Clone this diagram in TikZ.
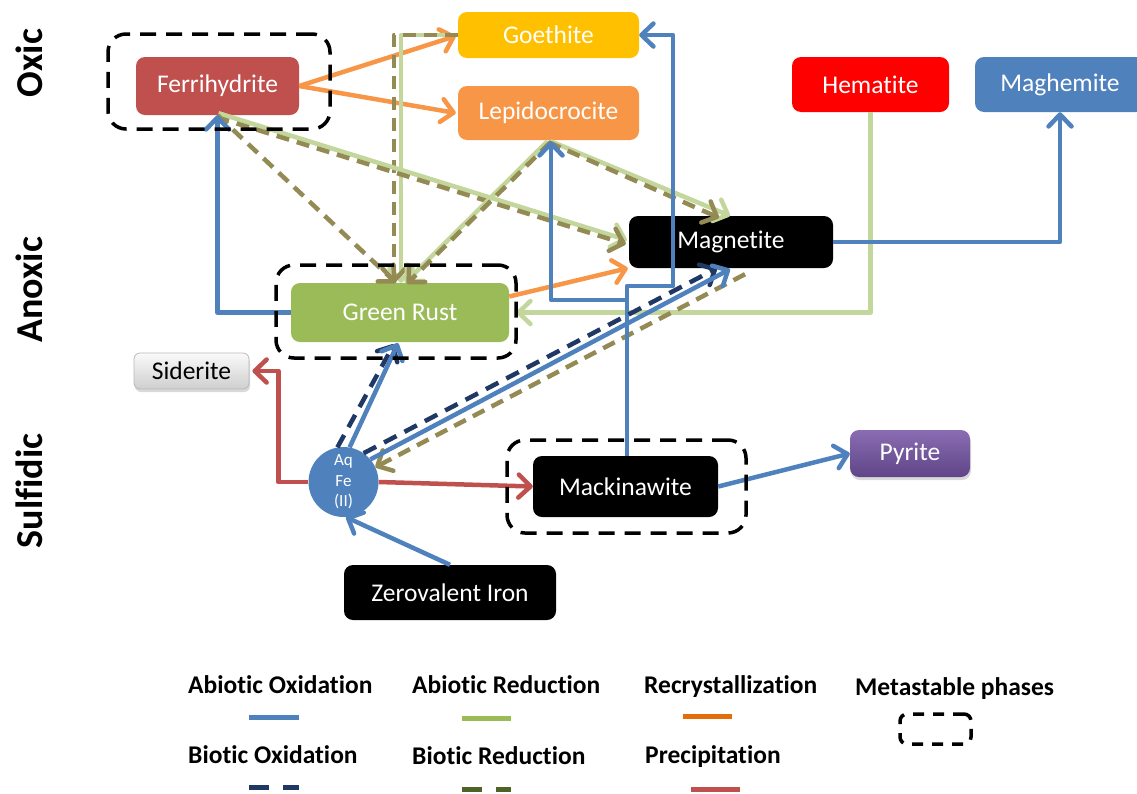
\documentclass[tikz,border=0pt]{standalone}
\usepackage{fontspec}
\setmainfont{Carlito}[Ligatures=NoCommon]
\usetikzlibrary{arrows.meta,calc,shadows}
\definecolor{cBlue}{HTML}{4F81BD}
\definecolor{cGreenL}{HTML}{C3D69B}
\definecolor{cGreen}{HTML}{9BBB59}
\definecolor{cOlive}{HTML}{948A54}
\definecolor{cOliveD}{HTML}{4F6228}
\definecolor{cNavy}{HTML}{1F3864}
\definecolor{cOrange}{HTML}{F79646}
\definecolor{cOrangeD}{HTML}{E46C0A}
\definecolor{cRed}{HTML}{C0504D}
\definecolor{cGold}{HTML}{FFC000}
\definecolor{cHem}{HTML}{FF0000}
\definecolor{cPurT}{HTML}{8A6CB2}
\definecolor{cPurB}{HTML}{5F4587}
\newcommand{\nfont}{\fontsize{25.5}{30}\selectfont}
\newcommand{\lfont}{\fontsize{25.5}{30}\selectfont\bfseries}
\newcommand{\sfontx}{\fontsize{38}{44}\selectfont\bfseries}
\tikzset{
  ln/.style={line width=4.5pt, line join=round},
  tip/.style={-{Straight Barb[length=12pt,width=23pt,line join=round,line cap=round]}},
  aox/.style={ln, tip, draw=cBlue},
  ared/.style={ln, tip, draw=cGreenL},
  bred/.style={ln, tip, draw=cOlive, dash pattern=on 13pt off 8pt},
  biox/.style={ln, tip, draw=cNavy, dash pattern=on 14pt off 9pt},
  recr/.style={ln, tip, draw=cOrange},
  prec/.style={ln, tip, draw=cRed},
  meta/.style={draw=black, line width=3.5pt, dash pattern=on 16pt off 10pt, rounded corners=18pt, inner sep=0pt},
  mineral/.style={rounded corners=9pt, inner sep=0pt, text=white, font=\nfont},
  legline/.style={line width=5pt},
  legtext/.style={anchor=base west, font=\lfont, inner sep=0pt},
  side/.style={rotate=90, font=\sfontx, inner sep=0pt}
}
\begin{document}
\begin{tikzpicture}[x=1pt,y=-1pt]
\path[use as bounding box] (0,0) rectangle (1137,793);

% side labels
\node[side] (oxic) at (29,63) {Oxic};
\node[side] (anoxic) at (29,290) {Anoxic};
\node[side] (sulf) at (29,491) {Sulfidic};

% minerals
\node[mineral, fill=cRed, minimum width=163pt, minimum height=58pt] (ferri) at (217.5,86) {Ferrihydrite};
\node[mineral, fill=cGold, minimum width=181pt, minimum height=46pt] (goe) at (548.5,35) {Goethite};
\node[mineral, fill=cOrange, minimum width=181pt, minimum height=54pt] (lepi) at (548.5,113) {Lepidocrocite};
\node[mineral, fill=cHem, minimum width=157pt, minimum height=55pt] (hema) at (870.5,84.5) {Hematite};
\node[mineral, fill=cBlue, minimum width=170pt, minimum height=55pt] (magh) at (1060,84.5) {Maghemite};
\node[mineral, fill=black, minimum width=204pt, minimum height=52pt] (magn) at (731,242) {Magnetite};
\node[mineral, fill=cGreen, minimum width=218pt, minimum height=59pt] (gr) at (400,312.5) {Green Rust};
\node[mineral, rounded corners=6pt, top color=gray!4, bottom color=gray!38, draw=gray!55, line width=0.8pt,
      drop shadow={opacity=0.3,shadow xshift=1pt,shadow yshift=-3pt}, text=black,
      minimum width=115pt, minimum height=36pt] (sid) at (191.5,371) {Siderite};
\node[circle, fill=cBlue, text=white, inner sep=0pt, minimum size=70pt, align=center,
      font=\fontsize{17}{20.5}\selectfont] (aq) at (343.5,482) {Aq\\Fe\\(II)};
\node[mineral, fill=black, minimum width=185pt, minimum height=61pt] (mack) at (625.5,486.5) {Mackinawite};
\node[mineral, top color=cPurT, bottom color=cPurB,
      drop shadow={opacity=0.3,shadow xshift=1pt,shadow yshift=-3pt},
      minimum width=120pt, minimum height=47pt] (pyr) at (910,453.5) {Pyrite};
\node[mineral, fill=black, minimum width=212pt, minimum height=55pt] (zvi) at (450,592.5) {Zerovalent Iron};

% junction points
\coordinate (jg) at (673,286);

% connectors
% recrystallization
\draw[recr] (ferri.east) -- ($(goe.west)+(-2,1)$);
\draw[recr] (ferri.east) -- ($(lepi.west)+(-2,0)$);
\draw[recr] ($(gr.east)+(0,-16)$) -- ($(magn.south west)+(-1,0)$);

% abiotic reduction (light green) with biotic reduction (olive dashed)
\draw[ared] (goe.west) -| ($(gr.north)+(1,0)$);
\draw[bred] (goe.west) -| ($(gr.north)+(-6,0)$);
\draw[ared] ($(ferri.south)+(1,-2)$) -- ($(magn.west)+(-2,-2)$);
\draw[bred] ($(ferri.south)+(-1,2)$) -- ($(magn.west)+(-3,2)$);
\draw[bred] (ferri.south) -- ($(gr.north)+(-4,0)$);
\draw[ared] ($(lepi.south)+(-1,1)$) -- ($(gr.north)+(5,0)$);
\draw[bred] ($(lepi.south)+(2,2)$) -- ($(gr.north)+(7,1)$);
\draw[ared] ($(lepi.south)+(2,1)$) -- ($(magn.north)+(-1,0)$);
\draw[bred] ($(lepi.south)+(0,2)$) -- ($(magn.north)+(-12,2)$);
\draw[ared] (hema.south) |- ($(gr.east)+(7,0)$);
\draw[bred] ($(magn.south)+(14,6)$) -- (aq.25);

% abiotic oxidation (blue)
\draw[aox] (gr.west) -| (ferri.south);
\draw[aox] ($(mack.north)+(1.5,0)$) |- (jg) |- (goe.east);
\draw[aox] ($(mack.north)+(1.5,0)$) -- ++(0,-156) -| ($(lepi.south)+(2.5,1)$);
\draw[aox] (magn.east) -| (magh.south);
\draw[biox] (aq.100) -- ($(gr.south)+(-6,2)$);
\draw[aox] (aq.80) -- ($(gr.south)+(-2,1)$);
\draw[biox] (aq.55) -- ($(magn.south)+(-14,0)$);
\draw[aox] (aq.40) -- ($(magn.south)+(-1,1)$);
\draw[aox] (mack.east) -- (pyr.west);
\draw[aox] (zvi.north) -- (aq.274);

% precipitation (red)
\draw[prec] (aq.west) -- ++(-30,0) |- ($(sid.east)+(3,0)$);
\draw[prec] (aq.east) -- (mack.west);

% metastable phase outlines
\node[meta, minimum width=222pt, minimum height=95pt] (mferri) at (219,81.5) {};
\node[meta, minimum width=240pt, minimum height=93pt] (mgr) at (396,311.5) {};
\node[meta, minimum width=239pt, minimum height=93pt] (mmack) at (626.5,486.5) {};

% legend
\node[legtext] (l1) at (188,693) {Abiotic Oxidation};
\node[legtext] (l2) at (412,693) {Abiotic Reduction};
\node[legtext] (l3) at (644,693) {Recrystallization};
\node[legtext] (l4) at (855,695) {Metastable phases};
\node[legtext] (l5) at (188,763) {Biotic Oxidation};
\node[legtext] (l6) at (412,764) {Biotic Reduction};
\node[legtext] (l7) at (645,763) {Precipitation};
\draw[legline, cBlue] (249,717) -- (299,717);
\draw[legline, cGreen] (462,718) -- (511,718);
\draw[legline, cOrangeD] (683,716) -- (732,716);
\draw[legline, cNavy, dash pattern=on 20pt off 14pt] (249,787) -- (299,787);
\draw[legline, cOliveD, dash pattern=on 20pt off 14pt] (462,789) -- (511,789);
\draw[legline, cRed] (691,789) -- (740,789);
\node[draw=black, line width=3.5pt, dash pattern=on 11pt off 9pt, rounded corners=7pt,
      minimum width=71pt, minimum height=30pt, inner sep=0pt] (lmeta) at (935.5,729) {};
\end{tikzpicture}
\end{document}
